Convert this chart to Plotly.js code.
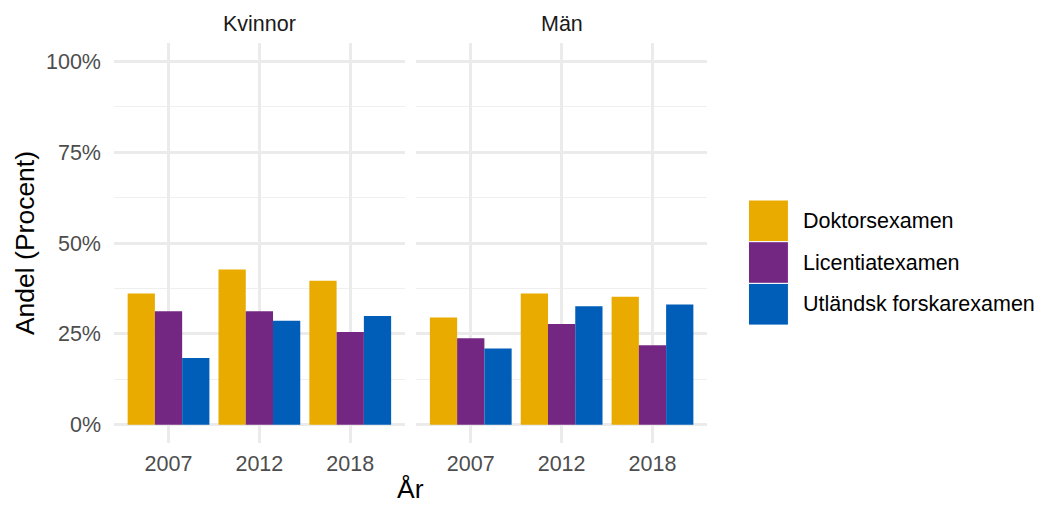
<!DOCTYPE html>
<html>
<head>
<meta charset="utf-8">
<script src="https://cdn.plot.ly/plotly-3.0.1.min.js"></script>
<style>html,body{margin:0;padding:0;background:#fff;}#chart{width:1040px;height:505px;}</style>
</head>
<body>
<div id="chart"></div>
<script>
// ---- data ----
const years = ['2007', '2012', '2018'];
const panels = ['Kvinnor', 'Män'];
const seriesNames = ['Doktorsexamen', 'Licentiatexamen', 'Utländsk forskarexamen'];
const seriesColors = ['#EAAB00', '#742782', '#005EB8'];
const kvinnorDoktor = [36.1, 42.7, 39.6];
const kvinnorLicentiat = [31.2, 31.2, 25.5];
const kvinnorUtlandsk = [18.4, 28.6, 29.9];
const manDoktor = [29.5, 36.1, 35.2];
const manLicentiat = [23.8, 27.7, 21.9];
const manUtlandsk = [21.0, 32.6, 33.1];
const yTickVals = [0, 25, 50, 75, 100];
const yTickText = ['0%', '25%', '50%', '75%', '100%'];
const yMinorVals = [12.5, 37.5, 62.5, 87.5];

// ---- layout geometry (pixels) ----
const W = 1040, H = 505;
const M = {l: 114, r: 332.5, t: 43, b: 62};
const PW = W - M.l - M.r, PH = H - M.t - M.b;
const px = x => (x - M.l) / PW;
const py = y => (H - M.b - y) / PH;

const FONT = '"Liberation Sans", Arial, sans-serif';
const FS = 21.5, TFS = 26.5;
const GRID = '#EBEBEB', MINOR = '#EFEFEF';

const panelData = [
  [kvinnorDoktor, kvinnorLicentiat, kvinnorUtlandsk],
  [manDoktor, manLicentiat, manUtlandsk]
];

const traces = [];
panelData.forEach((set, p) => {
  set.forEach((vals, s) => {
    traces.push({
      type: 'bar',
      x: years,
      y: vals,
      name: seriesNames[s],
      legendgroup: seriesNames[s],
      showlegend: false,
      xaxis: p === 0 ? 'x' : 'x2',
      yaxis: p === 0 ? 'y' : 'y2',
      marker: {color: seriesColors[s], line: {width: 0}},
      hovertemplate: panels[p] + ' %{x}<br>' + seriesNames[s] + ': %{y}%<extra></extra>'
    });
  });
});

function xAxis(domain) {
  return {
    domain: domain, type: 'category', range: [-0.6, 2.6],
    showgrid: true, gridcolor: GRID, gridwidth: 3,
    zeroline: false, showline: false, ticks: '',
    ticklabelstandoff: 5,
    tickfont: {family: FONT, size: FS, color: '#4D4D4D'},
    fixedrange: true
  };
}
function yAxis(show, anchor) {
  return {
    domain: [0, 1], range: [-5, 105], anchor: anchor,
    tickvals: yTickVals, ticktext: yTickText, showticklabels: show,
    showgrid: true, gridcolor: GRID, gridwidth: 3,
    minor: {tickvals: yMinorVals, showgrid: true, gridcolor: MINOR, gridwidth: 1.6, ticks: ''},
    zeroline: false, showline: false, ticks: '',
    ticklabelstandoff: 12,
    tickfont: {family: FONT, size: FS, color: '#4D4D4D'},
    fixedrange: true
  };
}

const d1 = [0, px(405)], d2 = [px(416.5), 1];

const shapes = [];
const annotations = [];
// facet strip labels
annotations.push({xref: 'paper', yref: 'paper', x: (d1[0] + d1[1]) / 2, y: py(24), text: panels[0],
  showarrow: false, xanchor: 'center', yanchor: 'middle', font: {family: FONT, size: FS, color: '#1A1A1A'}});
annotations.push({xref: 'paper', yref: 'paper', x: (d2[0] + d2[1]) / 2, y: py(24), text: panels[1],
  showarrow: false, xanchor: 'center', yanchor: 'middle', font: {family: FONT, size: FS, color: '#1A1A1A'}});
// axis titles
annotations.push({xref: 'paper', yref: 'paper', x: 0.5, y: py(489), text: 'År',
  showarrow: false, xanchor: 'center', yanchor: 'middle', font: {family: FONT, size: TFS, color: '#000'}});
annotations.push({xref: 'paper', yref: 'paper', x: px(25), y: 0.5, text: 'Andel (Procent)', textangle: -90,
  showarrow: false, xanchor: 'center', yanchor: 'middle', font: {family: FONT, size: TFS, color: '#000'}});
// legend
const keyTop = 200, keyH = 41.7;
seriesNames.forEach((n, i) => {
  const y0 = keyTop + i * keyH, y1 = y0 + keyH;
  shapes.push({type: 'rect', xref: 'paper', yref: 'paper', x0: px(749), x1: px(789), y0: py(y1), y1: py(y0),
    fillcolor: seriesColors[i], line: {width: 1, color: '#FFFFFF'}});
  annotations.push({xref: 'paper', yref: 'paper', x: px(802), y: py((y0 + y1) / 2), text: n,
    showarrow: false, xanchor: 'left', yanchor: 'middle', font: {family: FONT, size: FS, color: '#000'}});
});

const layout = {
  width: W, height: H, margin: M,
  paper_bgcolor: '#FFFFFF', plot_bgcolor: '#FFFFFF',
  barmode: 'group', bargap: 0.1, bargroupgap: 0,
  showlegend: false,
  xaxis: xAxis(d1), xaxis2: Object.assign(xAxis(d2), {anchor: 'y2'}),
  yaxis: yAxis(true, 'x'), yaxis2: yAxis(false, 'x2'),
  shapes: shapes, annotations: annotations,
  font: {family: FONT}
};
layout.xaxis.anchor = 'y';

Plotly.newPlot('chart', traces, layout, {displayModeBar: false, staticPlot: true});
</script>
</body>
</html>
